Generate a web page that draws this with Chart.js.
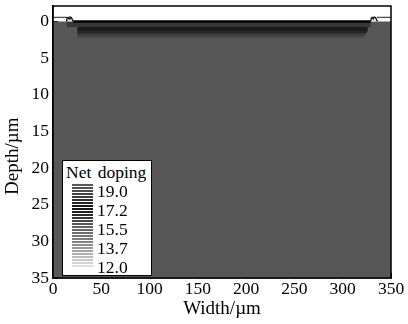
<!DOCTYPE html>
<html><head><meta charset="utf-8">
<script src="https://cdn.jsdelivr.net/npm/chart.js@4/dist/chart.umd.min.js"></script>
<style>
html,body{margin:0;padding:0;background:#fff;}
#wrap{position:relative;width:408px;height:324px;overflow:hidden;}
#legend{position:absolute;left:62px;top:160px;width:88px;height:114px;background:#fff;border:1.5px solid #000;font-family:"Liberation Serif","Times New Roman",serif;color:#000;}
#legend .ttl{position:absolute;left:3px;top:1px;font-size:17.5px;white-space:nowrap;word-spacing:2px;}
#legend .sw{position:absolute;left:9px;top:23px;width:21px;height:84px;}
#legend .st{position:absolute;left:0;width:21px;height:2px;}
#legend .lb{position:absolute;left:34px;font-size:17.5px;line-height:18px;height:18px;}
</style></head><body>
<div id="wrap"><canvas id="c" width="408" height="324"></canvas><div id="legend"><div class="ttl">Net doping</div><div class="sw" id="sw"></div></div></div>
<script>
// ---- data ----
const xTicks = [0, 50, 100, 150, 200, 250, 300, 350];
const yTicks = [0, 5, 10, 15, 20, 25, 30, 35];
const legendLabels = ['19.0', '17.2', '15.5', '13.7', '12.0'];

// doping regions (width in µm, depth in µm)
const regionXStart     = [0,    14,   25,   25,   25,   25,   25];
const regionXEnd       = [350,  329,  326,  325,  324,  323,  322];
const regionDepthTop   = [0,    0,    0.75, 1.4,  1.6,  1.8,  2.0];
const regionDepthBottom= [35,   0.75, 1.4,  1.6,  1.8,  2.0,  2.25];

// surface features
const surfaceX = [21, 329];
const surfaceDepth = [0, 0];
const oxideLeftX = [0, 14.5];
const oxideRightX = [335.5, 350];
const oxideDepth = [-0.55, -0.55];
const contactLeftX = [14, 14.6, 15.6, 16.6, 17.6, 19.2, 20.2, 21];
const contactRightX = [329, 329.6, 330.6, 331.6, 332.6, 334.2, 335.2, 336];
const contactDepth = [0, -0.45, -0.55, -0.35, -0.6, -0.5, -0.2, 0];

// ---- styles ----
const regionColors = ['#575757', '#373737', '#1c1c1c', '#262626', '#313131', '#3d3d3d', '#494949'];
const serif = '"Liberation Serif","Times New Roman",serif';

const datasets = [];
regionXStart.forEach((x0, i) => {
  datasets.push({
    data: [{x: x0, y: regionDepthTop[i]}, {x: regionXEnd[i], y: regionDepthTop[i]}],
    fill: {value: regionDepthBottom[i]},
    backgroundColor: regionColors[i],
    borderColor: 'transparent', borderWidth: 0, pointRadius: 0, showLine: true
  });
});
function line(xs, ds, color, width, fillColor) {
  return {
    data: xs.map((x, i) => ({x: x, y: ds[i]})),
    fill: fillColor ? 'shape' : false,
    backgroundColor: fillColor || 'transparent',
    borderColor: color, borderWidth: width, pointRadius: 0, showLine: true, tension: 0
  };
}
datasets.push(line(oxideLeftX, oxideDepth, '#444', 1.2));
datasets.push(line(oxideRightX, oxideDepth, '#444', 1.2));
datasets.push(line(surfaceX, surfaceDepth, '#000', 2.5));
datasets.push(line(contactLeftX, contactDepth, '#000', 1.2, '#ddd'));
datasets.push(line(contactRightX, contactDepth, '#000', 1.2, '#ddd'));
datasets.forEach((d, i) => { d.order = datasets.length - i; });

const frame = {
  id: 'frame',
  afterDatasetsDraw(chart) {
    const {ctx, chartArea: a} = chart;
    ctx.save();
    ctx.strokeStyle = '#000';
    ctx.lineWidth = 1.5;
    ctx.strokeRect(a.left, a.top, a.right - a.left, a.bottom - a.top);
    ctx.restore();
  }
};
function noPad(s) { s.paddingTop = 0; s.paddingBottom = 0; s.paddingLeft = 0; s.paddingRight = 0; }

new Chart(document.getElementById('c'), {
  type: 'scatter',
  data: {datasets},
  options: {
    responsive: false, animation: false, devicePixelRatio: 1,
    layout: {padding: {top: 6, right: 17, left: 0, bottom: 0}},
    plugins: {legend: {display: false}, tooltip: {enabled: false}},
    scales: {
      x: {
        type: 'linear', min: 0, max: 350, z: 1,
        afterBuildTicks: s => { s.ticks = xTicks.map(v => ({value: v})); },
        afterFit: s => { s.height = 46; noPad(s); },
        grid: {drawOnChartArea: false, tickLength: -5, color: '#000', lineWidth: 1},
        border: {display: true, color: '#000', width: 1.5},
        ticks: {font: {family: serif, size: 17.5}, color: '#000', padding: 6, maxRotation: 0, autoSkip: false},
        title: {display: true, text: 'Width/µm', font: {family: serif, size: 19}, color: '#000', padding: {top: 0, bottom: 4}}
      },
      y: {
        type: 'linear', min: -2.1, max: 35, reverse: true, z: 1,
        afterBuildTicks: s => { s.ticks = yTicks.map(v => ({value: v})); },
        afterFit: s => { s.width = 53; noPad(s); },
        grid: {drawOnChartArea: false, tickLength: -5, color: '#000', lineWidth: 1},
        border: {display: true, color: '#000', width: 1.5},
        ticks: {font: {family: serif, size: 17.5}, color: '#000', padding: 9, autoSkip: false},
        title: {display: true, text: 'Depth/µm      ', font: {family: serif, size: 19}, color: '#000', padding: {top: 2, bottom: 0}}
      }
    }
  },
  plugins: [frame]
});

// legend swatch and labels
const sw = document.getElementById('sw');
const anchors = [[0, 88], [0.15, 60], [0.28, 18], [0.38, 45], [0.5, 95], [0.7, 130], [0.88, 185], [1, 222]];
function gray(t) {
  for (let i = 1; i < anchors.length; i++) {
    if (t <= anchors[i][0]) {
      const [t0, g0] = anchors[i - 1], [t1, g1] = anchors[i];
      return Math.round(g0 + (g1 - g0) * (t - t0) / (t1 - t0));
    }
  }
  return anchors[anchors.length - 1][1];
}
const nStripes = 28;
for (let i = 0; i < nStripes; i++) {
  const d = document.createElement('div');
  d.className = 'st';
  d.style.top = (i * 3) + 'px';
  const g = gray(i / (nStripes - 1));
  d.style.background = `rgb(${g},${g},${g})`;
  sw.appendChild(d);
}
const lg = document.getElementById('legend');
legendLabels.forEach((t, i) => {
  const d = document.createElement('div');
  d.className = 'lb';
  d.textContent = t;
  d.style.top = (21 + i * 19) + 'px';
  lg.appendChild(d);
});
</script>
</body></html>
